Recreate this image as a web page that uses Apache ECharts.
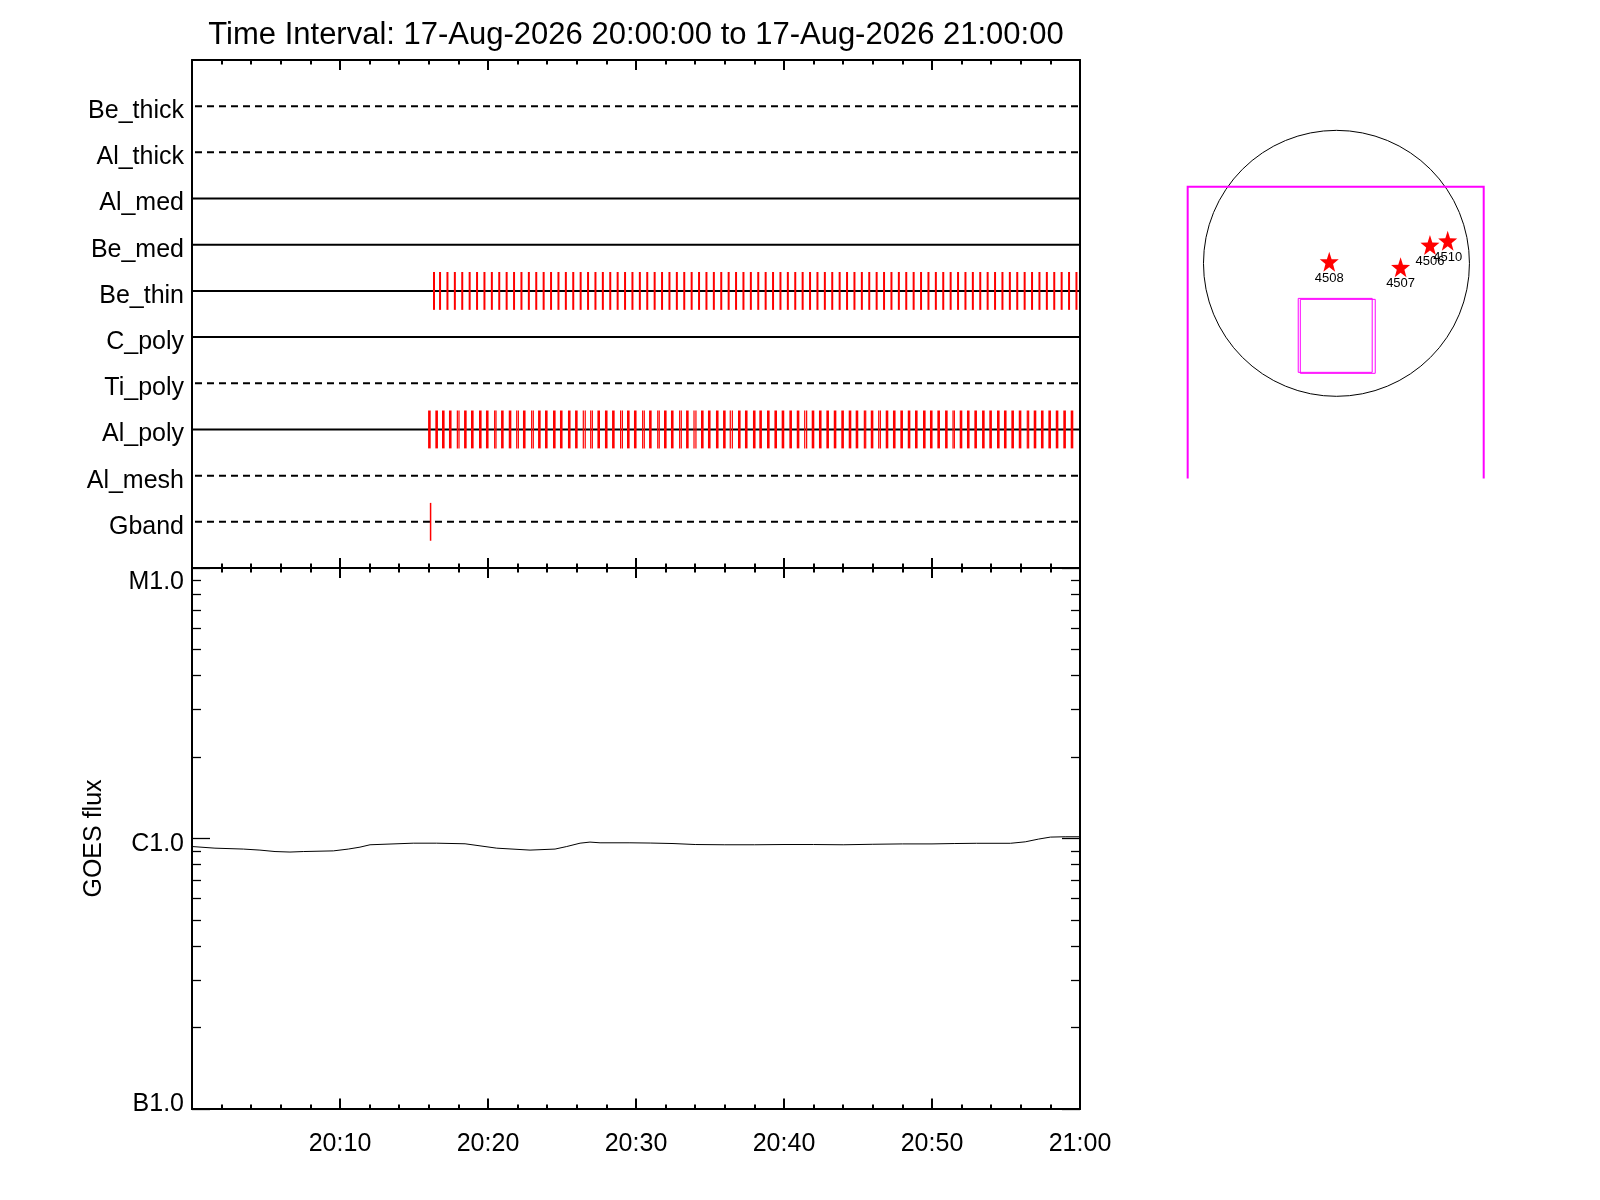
<!DOCTYPE html>
<html>
<head>
<meta charset="utf-8">
<title>STIX attenuator / GOES flux</title>
<script src="https://cdn.jsdelivr.net/npm/echarts@6/dist/echarts.min.js"></script>
<style>
  html, body { margin: 0; padding: 0; background: #fff; }
  #main { width: 1600px; height: 1200px; }
</style>
</head>
<body>
<div id="main"></div>
<script>
// ---- data ----
var titleText = 'Time Interval: 17-Aug-2026 20:00:00 to 17-Aug-2026 21:00:00';

// minutes after 20:00
var timeMin = 0, timeMax = 60;
var timeLabelValues = [10, 20, 30, 40, 50, 60];
var timeLabels = ['20:10', '20:20', '20:30', '20:40', '20:50', '21:00'];

// channels, top to bottom
var channels = ['Be_thick', 'Al_thick', 'Al_med', 'Be_med', 'Be_thin', 'C_poly', 'Ti_poly', 'Al_poly', 'Al_mesh', 'Gband'];
var channelDashed = [true, true, false, false, false, false, true, false, true, true];

// event times (minutes after 20:00)
var beThinTimes = [16.35, 16.76, 17.26, 17.76, 18.26, 18.76, 19.26, 19.76, 20.26, 20.76,
  21.26, 21.76, 22.26, 22.76, 23.26, 23.76, 24.26, 24.76, 25.26, 25.76,
  26.26, 26.76, 27.26, 27.76, 28.26, 28.76, 29.26, 29.76, 30.26, 30.76,
  31.26, 31.76, 32.26, 32.76, 33.26, 33.76, 34.26, 34.76, 35.26, 35.76,
  36.26, 36.76, 37.26, 37.76, 38.26, 38.76, 39.26, 39.76, 40.26, 40.76,
  41.26, 41.76, 42.26, 42.76, 43.26, 43.76, 44.26, 44.76, 45.26, 45.76,
  46.26, 46.76, 47.26, 47.76, 48.26, 48.76, 49.26, 49.76, 50.26, 50.76,
  51.26, 51.76, 52.26, 52.76, 53.26, 53.76, 54.26, 54.76, 55.26, 55.76,
  56.26, 56.76, 57.26, 57.76, 58.26, 58.76, 59.26, 59.76];
var alPolyTimes = [16.04, 16.53, 16.98, 17.45, 17.93, 18.04, 18.47, 18.94, 19.48, 19.95,
  20.45, 20.54, 20.97, 21.49, 21.94, 22.05, 22.45, 22.95, 23.06, 23.47,
  23.94, 24.48, 24.95, 25.49, 25.97, 26.44, 26.57, 26.94, 27.05, 27.48,
  27.99, 28.47, 28.96, 29.08, 29.48, 29.95, 30.45, 30.56, 30.97, 31.47,
  31.57, 31.98, 32.45, 32.95, 33.06, 33.47, 33.92, 34.05, 34.48, 34.95,
  35.49, 35.97, 36.37, 36.51, 36.98, 37.45, 37.99, 38.42, 38.94, 39.44,
  39.93, 40.45, 40.95, 41.40, 41.53, 41.96, 42.45, 42.95, 43.45, 43.96,
  44.46, 44.93, 45.43, 45.52, 45.95, 46.40, 46.51, 46.96, 47.45, 47.95,
  48.45, 48.94, 49.48, 49.95, 50.45, 50.97, 51.42, 51.51, 51.96, 52.45,
  52.95, 53.47, 53.96, 54.48, 54.95, 55.45, 55.95, 56.44, 56.53, 56.96,
  57.45, 57.95, 58.45, 58.96, 59.46];
var gbandTimes = [16.12];

// GOES 1-8 A flux, W/m^2
var goesMinutes = [0, 1.55, 3.47, 4.59, 5.61, 6.62, 7.52, 9.55, 10.56, 11.35,
  12.03, 14.95, 16.53, 18.45, 20.59, 22.84, 24.53, 25.32, 26.22, 26.89,
  27.57, 29.59, 31.0, 32.5, 34.0, 36.0, 38.0, 40.0, 42.0, 44.0,
  46.0, 48.0, 50.0, 51.5, 53.0, 55.3, 56.3, 57.2, 58.0, 59.0, 60.0];
var goesFlux = [9.34e-7, 9.21e-7, 9.14e-7, 9.06e-7, 8.95e-7, 8.91e-7, 8.95e-7, 9.00e-7, 9.14e-7, 9.29e-7,
  9.48e-7, 9.61e-7, 9.61e-7, 9.56e-7, 9.21e-7, 9.06e-7, 9.14e-7, 9.34e-7, 9.61e-7, 9.70e-7,
  9.64e-7, 9.64e-7, 9.62e-7, 9.58e-7, 9.50e-7, 9.48e-7, 9.48e-7, 9.50e-7, 9.50e-7, 9.48e-7,
  9.52e-7, 9.55e-7, 9.55e-7, 9.58e-7, 9.60e-7, 9.60e-7, 9.72e-7, 9.95e-7, 1.012e-6, 1.015e-6, 1.015e-6];
var fluxTickValues = [1e-7, 1e-6, 1e-5];
var fluxTickLabels = ['B1.0', 'C1.0', 'M1.0'];

// solar disk (arcsec)
var sunRadius = 960;
var regionNames = ['4508', '4507', '4506', '4510'];
var regionX = [-52, 463, 675, 803];
var regionY = [12, -29, 132, 163];
var fovFrame = [-1074, 1063, 553];               // left, right, top (open below)
var fovBoxes = [[-276, 258, -253, -787], [-261, 280, -260, -794]]; // x0, x1, y0, y1

// ---- chart ----
var font = '"Liberation Sans", Arial, sans-serif';
var black = '#000';
var red = '#ff0000';

var logMinor = [];
[-7, -6].forEach(function (e) {
  for (var k = 2; k <= 9; k++) logMinor.push(Math.log10(k * Math.pow(10, e)));
});

var diskXMin = -1346, diskXMax = 1325, diskYMin = -1554, diskYMax = 1107;

function timeAxis(grid, pos, len, labels) {
  return {
    type: 'value', gridIndex: grid, position: pos, min: timeMin, max: timeMax, interval: 10,
    axisLine: { onZero: false, lineStyle: { color: black, width: 2 } },
    axisTick: { inside: true, length: len, lineStyle: { color: black, width: 2 } },
    minorTick: { show: true, splitNumber: 5, length: 4.5, lineStyle: { color: black, width: 2 } },
    splitLine: { show: false },
    axisLabel: labels ? {
      customValues: timeLabelValues, margin: 23, fontSize: 25, color: black, fontFamily: font,
      formatter: function (v) { return timeLabels[timeLabelValues.indexOf(Math.round(v))]; }
    } : { show: false }
  };
}

function fluxAxis(pos, ticks, len, labels) {
  var ax = {
    type: 'value', gridIndex: 1, position: pos, min: -7, max: -5,
    axisLine: { show: true, onZero: false, lineStyle: { color: black, width: 2 } },
    axisTick: { inside: true, customValues: ticks, length: len, lineStyle: { color: black, width: 1.3 } },
    splitLine: { show: false },
    axisLabel: { show: false }
  };
  if (labels) {
    var styles = ['bot', 'mid', 'top'];
    ax.axisLabel = {
      show: true, customValues: fluxTickValues.map(Math.log10), margin: 8,
      showMinLabel: true, showMaxLabel: true,
      fontSize: 25, color: black, fontFamily: font,
      formatter: function (v) {
        var i = Math.round(v) + 7;
        return '{' + styles[i] + '|' + fluxTickLabels[i] + '}';
      },
      rich: {
        top: { fontSize: 25, fontFamily: font, color: black, padding: [28, 0, 0, 0] },
        mid: { fontSize: 25, fontFamily: font, color: black, padding: [11, 0, 0, 0] },
        bot: { fontSize: 25, fontFamily: font, color: black, padding: [0, 0, 9, 0] }
      }
    };
    ax.name = 'GOES flux';
    ax.nameLocation = 'middle';
    ax.nameRotate = 90;
    ax.nameGap = 85;
    ax.nameTextStyle = { fontSize: 25, color: black, fontFamily: font };
  }
  return ax;
}

var barHalf = 0.41;
function eventSeries(times, row, widthFn) {
  return {
    type: 'custom', xAxisIndex: 0, yAxisIndex: 0,
    data: times.map(function (t) { return [t, row]; }),
    renderItem: function (params, api) {
      var t = api.value(0), r = api.value(1);
      var p0 = api.coord([t, r - barHalf]);
      var p1 = api.coord([t, r + barHalf]);
      return {
        type: 'line',
        shape: { x1: p0[0], y1: p0[1], x2: p1[0], y2: p1[1] },
        style: { stroke: red, lineWidth: widthFn(params.dataIndex) }
      };
    }
  };
}

function isPaired(times, i) {
  return (i > 0 && times[i] - times[i - 1] < 0.16) || (i < times.length - 1 && times[i + 1] - times[i] < 0.16);
}

var option = {
  animation: false,
  backgroundColor: '#fff',
  title: {
    text: titleText, left: 636, top: 20, textAlign: 'center', padding: 0,
    textStyle: { fontSize: 31, fontWeight: 'normal', color: black, fontFamily: font }
  },
  grid: [
    { left: 192, top: 60, width: 888, height: 508 },
    { left: 192, top: 568, width: 888, height: 541 },
    { left: 1150, top: 110, width: 370, height: 368.6 }
  ],
  xAxis: [
    timeAxis(0, 'top', 10, false),
    timeAxis(0, 'bottom', 10, false),
    timeAxis(1, 'top', 10, false),
    timeAxis(1, 'bottom', 10.5, true),
    { type: 'value', gridIndex: 2, min: diskXMin, max: diskXMax, show: false }
  ],
  yAxis: [
    {
      type: 'value', gridIndex: 0, position: 'left', min: 0, max: channels.length + 1, inverse: true,
      axisLine: { onZero: false, lineStyle: { color: black, width: 2 } },
      axisTick: { show: false }, splitLine: { show: false },
      axisLabel: {
        customValues: channels.map(function (c, i) { return i + 1; }),
        margin: 8, fontSize: 25, color: black, fontFamily: font,
        formatter: function (v) { return '{r|' + channels[Math.round(v) - 1] + '}'; },
        rich: { r: { fontSize: 25, fontFamily: font, color: black, padding: [10, 0, 0, 0] } }
      }
    },
    {
      type: 'value', gridIndex: 0, position: 'right', min: 0, max: channels.length + 1,
      axisLine: { show: true, onZero: false, lineStyle: { color: black, width: 2 } },
      axisTick: { show: false }, splitLine: { show: false }, axisLabel: { show: false }
    },
    fluxAxis('left', [-7, -6, -5], 18, true),
    fluxAxis('left', logMinor, 9, false),
    fluxAxis('right', [-7, -6, -5], 18, false),
    fluxAxis('right', logMinor, 9, false),
    { type: 'value', gridIndex: 2, min: diskYMin, max: diskYMax, show: false }
  ],
  series: [
    {
      // channel baselines
      type: 'custom', xAxisIndex: 0, yAxisIndex: 0,
      data: channels.map(function (c, i) { return [timeMin, i + 1, channelDashed[i] ? 1 : 0]; }),
      renderItem: function (params, api) {
        var r = api.value(1);
        var p0 = api.coord([timeMin, r]);
        var p1 = api.coord([timeMax, r]);
        return {
          type: 'line',
          shape: { x1: p0[0] + (api.value(2) ? 3 : 0), y1: p0[1], x2: p1[0], y2: p1[1] },
          style: { stroke: black, lineWidth: 2, lineDash: api.value(2) ? [7, 5] : null }
        };
      }
    },
    eventSeries(beThinTimes, channels.indexOf('Be_thin') + 1, function () { return 2; }),
    eventSeries(alPolyTimes, channels.indexOf('Al_poly') + 1, function (i) { return isPaired(alPolyTimes, i) ? 1.2 : 2.6; }),
    eventSeries(gbandTimes, channels.indexOf('Gband') + 1, function () { return 1.5; }),
    {
      type: 'line', xAxisIndex: 3, yAxisIndex: 2,
      data: goesMinutes.map(function (m, i) { return [m, Math.log10(goesFlux[i])]; }),
      showSymbol: false, smooth: false,
      lineStyle: { color: black, width: 1 }, itemStyle: { color: black }
    },
    {
      // solar limb and fields of view
      type: 'custom', xAxisIndex: 4, yAxisIndex: 6,
      data: [[0, 0]],
      renderItem: function (params, api) {
        var c = api.coord([0, 0]);
        var r = api.size([sunRadius, 0])[0];
        var kids = [{
          type: 'circle', shape: { cx: c[0], cy: c[1], r: r },
          style: { fill: null, stroke: black, lineWidth: 1 }
        }];
        var f = fovFrame;
        kids.push({
          type: 'polyline',
          shape: { points: [api.coord([f[0], diskYMin]), api.coord([f[0], f[2]]), api.coord([f[1], f[2]]), api.coord([f[1], diskYMin])] },
          style: { fill: null, stroke: '#ff00ff', lineWidth: 2 }
        });
        fovBoxes.forEach(function (b) {
          kids.push({
            type: 'polygon',
            shape: { points: [api.coord([b[0], b[2]]), api.coord([b[1], b[2]]), api.coord([b[1], b[3]]), api.coord([b[0], b[3]])] },
            style: { fill: null, stroke: '#ff00ff', lineWidth: 1 }
          });
        });
        return { type: 'group', children: kids };
      }
    },
    {
      type: 'scatter', xAxisIndex: 4, yAxisIndex: 6,
      symbol: 'path://M0,-10L2.35,-3.24L9.51,-3.09L3.8,1.24L5.88,8.09L0,4L-5.88,8.09L-3.8,1.24L-9.51,-3.09L-2.35,-3.24Z',
      symbolSize: [19, 20],
      itemStyle: { color: red, opacity: 1 },
      label: {
        show: true, position: 'bottom', distance: 0, formatter: '{b}',
        fontSize: 13, color: '#000', fontFamily: font
      },
      data: regionNames.map(function (n, i) { return { name: n, value: [regionX[i], regionY[i]] }; })
    }
  ]
};

var chart = echarts.init(document.getElementById('main'));
chart.setOption(option);
</script>
</body>
</html>
